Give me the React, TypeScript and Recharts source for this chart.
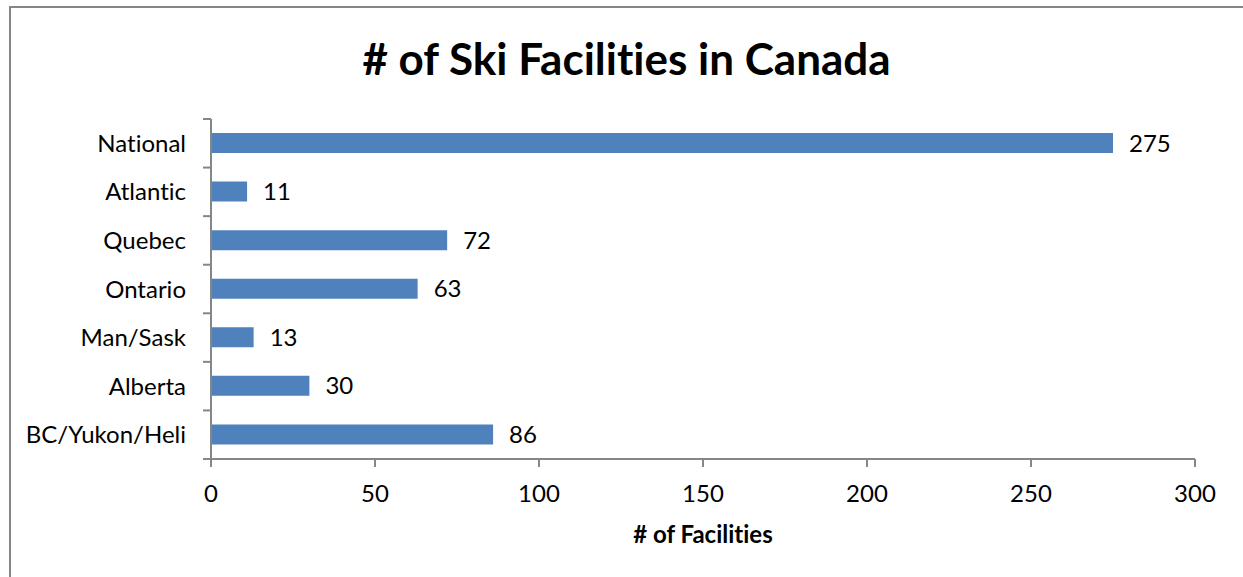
import React from 'react';
import { BarChart, Bar, XAxis, YAxis, LabelList } from 'recharts';

const REGIONS = ['National', 'Atlantic', 'Quebec', 'Ontario', 'Man/Sask', 'Alberta', 'BC/Yukon/Heli'];
const FACILITIES = [275, 11, 72, 63, 13, 30, 86];
const X_TICKS = [0, 50, 100, 150, 200, 250, 300];

const BAR_COLOR = '#4F81BD';
const AXIS_COLOR = '#868686';
const FONT = 'Lato, "Open Sans", sans-serif';
const NO_LIGA = { fontVariantLigatures: 'none' } as React.CSSProperties;

const chartData = REGIONS.map((name, i) => ({ name, value: FACILITIES[i] }));

// category label plus tick marks on the band edges (Excel style)
const CategoryTick = (props: any) => {
  const { x, y, payload, index, visibleTicksCount } = props;
  const axisX = x + 25;
  const half = payload.offset || 0;
  const isLast = index === visibleTicksCount - 1;
  return (
    <g>
      <text x={x} y={y} dy="0.355em" textAnchor="end" fill="#000" fontSize={24} fontFamily={FONT} style={NO_LIGA}>
        {payload.value}
      </text>
      <line x1={axisX - 8} x2={axisX} y1={y - half} y2={y - half} stroke={AXIS_COLOR} strokeWidth={2} />
      {isLast && (
        <line x1={axisX - 8} x2={axisX} y1={y + half} y2={y + half} stroke={AXIS_COLOR} strokeWidth={2} />
      )}
    </g>
  );
};

export default function App() {
  return (
    <div style={{ position: 'fixed', left: 0, top: 0, width: 1243, height: 577, overflow: 'hidden', background: '#fff' }}>
      <div
        style={{
          position: 'absolute',
          left: 9,
          top: 6,
          width: 1260,
          height: 600,
          border: `2px solid ${AXIS_COLOR}`,
        }}
      />
      <div
        style={{
          position: 'absolute',
          left: 10,
          top: 30,
          width: 1233,
          textAlign: 'center',
          fontFamily: FONT,
          fontWeight: 700,
          fontSize: 44,
          lineHeight: '56px',
          color: '#000',
          ...NO_LIGA,
        }}
      >
        # of Ski Facilities in Canada
      </div>
      <div style={{ position: 'absolute', left: 0, top: 0 }}>
        <BarChart
          width={1243}
          height={577}
          data={chartData}
          layout="vertical"
          margin={{ top: 119, right: 48, bottom: 38, left: 11 }}
          barSize={20}
        >
          <XAxis
            type="number"
            domain={[0, 300]}
            ticks={X_TICKS}
            interval={0}
            height={80}
            tickSize={8}
            tickMargin={18}
            tick={{ fill: '#000', fontSize: 24, fontFamily: FONT }}
            axisLine={{ stroke: AXIS_COLOR, strokeWidth: 2 }}
            tickLine={{ stroke: AXIS_COLOR, strokeWidth: 2 }}
            label={{
              value: '# of Facilities',
              position: 'insideBottom',
              offset: -4,
              fill: '#000',
              fontSize: 24,
              fontWeight: 700,
              fontFamily: FONT,
              style: NO_LIGA,
            }}
          />
          <YAxis
            type="category"
            dataKey="name"
            width={200}
            tickLine={false}
            tickSize={0}
            tickMargin={25}
            interval={0}
            axisLine={{ stroke: AXIS_COLOR, strokeWidth: 2 }}
            tick={<CategoryTick />}
          />
          <Bar dataKey="value" fill={BAR_COLOR} isAnimationActive={false}>
            <LabelList dataKey="value" position="right" offset={16} fill="#000" fontSize={24} fontFamily={FONT} />
          </Bar>
        </BarChart>
      </div>
    </div>
  );
}
